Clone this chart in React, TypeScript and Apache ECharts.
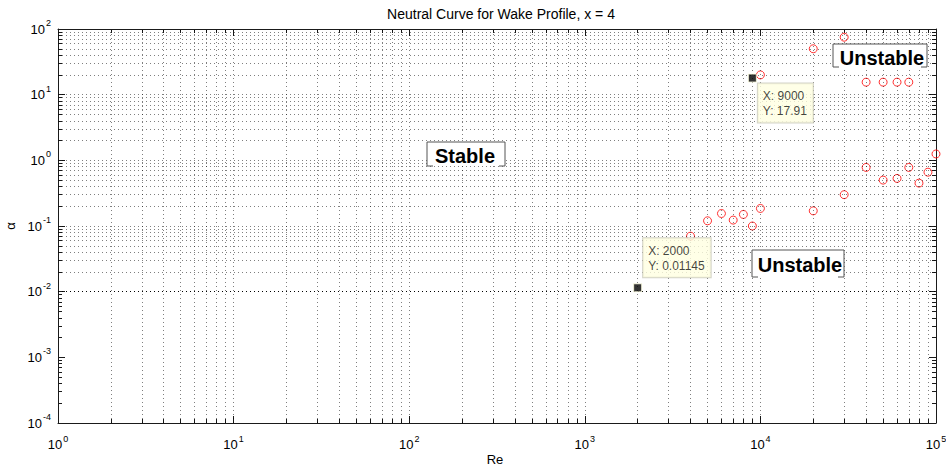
import React, { useEffect, useRef } from "react";
import * as echarts from "echarts";

// ---- data ----
const reCircles = [4000, 5000, 6000, 7000, 8000, 9000, 10000, 10000, 20000, 20000, 30000, 30000, 40000, 40000, 50000, 50000, 60000, 60000, 70000, 70000, 80000, 90000, 100000];
const alphaCircles = [0.07, 0.12, 0.155, 0.123, 0.15, 0.1, 0.185, 20, 0.17, 50, 0.3, 75, 0.78, 15.5, 0.5, 15.5, 0.53, 15.5, 0.78, 15.5, 0.45, 0.66, 1.25];

const tipRe = [9000, 2000];
const tipAlpha = [17.91, 0.01145];
const tipText = ["X: 9000\nY: 17.91", "X: 2000\nY: 0.01145"];

const xDecades = [1, 10, 100, 1000, 10000, 100000];
const yDecades = [0.0001, 0.001, 0.01, 0.1, 1, 10, 100];
const minorSteps = [2, 3, 4, 5, 6, 7, 8, 9];

const titleText = "Neutral Curve for Wake Profile, x = 4";
const xName = "Re";
const yName = "α";

function minorsOf(decades: number[]): number[] {
  const out: number[] = [];
  for (let i = 0; i < decades.length - 1; i++) {
    for (const m of minorSteps) out.push(+(m * decades[i]).toPrecision(6));
  }
  return out;
}

const xMinors = minorsOf(xDecades);
const yMinors = minorsOf(yDecades);

const FONT = "'Liberation Sans', Arial, Helvetica, sans-serif";

function supLabel(v: number) {
  const e = Math.round(Math.log10(v));
  return `{b|10}{s|${e}}`;
}

const rich = {
  b: { fontSize: 13, lineHeight: 15, fontFamily: FONT, color: "#000" },
  s: { fontSize: 9, lineHeight: 11, fontFamily: FONT, color: "#000", padding: [0, 0, 12, 1] },
};

const axisLineStyle = { color: "#1a1a1a", width: 1 };

function makeXAxis(pos: string, major: boolean, labels: boolean) {
  return {
    type: "log",
    logBase: 10,
    min: 1,
    max: 100000,
    position: pos,
    axisLine: { show: major, onZero: false, lineStyle: axisLineStyle },
    axisTick: {
      show: true,
      inside: true,
      length: major ? 7 : 4,
      customValues: major ? xDecades : xMinors,
      lineStyle: axisLineStyle,
    },
    axisLabel: labels
      ? { show: true, customValues: xDecades, formatter: supLabel, rich, margin: 14, fontFamily: FONT }
      : { show: false },
    splitLine: { show: false },
    minorTick: { show: false },
  };
}

function makeYAxis(pos: string, major: boolean, labels: boolean) {
  return {
    type: "log",
    logBase: 10,
    min: 0.0001,
    max: 100,
    position: pos,
    axisLine: { show: major, onZero: false, lineStyle: axisLineStyle },
    axisTick: {
      show: true,
      inside: true,
      length: major ? 7 : 4,
      customValues: major ? yDecades : yMinors,
      lineStyle: axisLineStyle,
    },
    axisLabel: labels
      ? { show: true, customValues: yDecades, formatter: supLabel, rich, margin: 7, fontFamily: FONT }
      : { show: false },
    splitLine: { show: false },
    minorTick: { show: false },
    name: labels ? yName : "",
    nameLocation: "middle",
    nameGap: 38,
    nameTextStyle: { fontSize: 13, fontFamily: FONT, color: "#000" },
  };
}

function annotation(x0: number, y0: number, x1: number, y1: number, text: string, cx: number, cy: number) {
  const stroke = { stroke: "#555", lineWidth: 1 };
  return {
    type: "group",
    z: 50,
    children: [
      { type: "rect", z: 50, shape: { x: x0, y: y0, width: x1 - x0, height: y1 - y0 }, style: { fill: "#fff" } },
      { type: "polyline", z: 51, shape: { points: [[x0 + 6, y1], [x0, y1], [x0, y0], [x1, y0], [x1, y1], [x1 - 6, y1]] }, style: { ...stroke, fill: null } },
      {
        type: "text",
        z: 52,
        x: cx,
        y: cy,
        style: { text, fontSize: 20, fontWeight: "bold", fontFamily: FONT, fill: "#000", align: "center", verticalAlign: "middle" },
      },
    ],
  };
}

export default function App() {
  const ref = useRef<HTMLDivElement>(null);
  useEffect(() => {
    if (!ref.current) return;
    const chart = echarts.init(ref.current, null, { renderer: "svg" });
    const gridStyle = { color: "#000", type: [1, 3], width: 1, opacity: 0.5 };
    const markData: any[] = [];
    for (const v of [...xDecades.slice(1, -1), ...xMinors]) markData.push({ xAxis: v });
    for (const v of [...yDecades.slice(1, -1), ...yMinors]) markData.push({ yAxis: v });

    chart.setOption({
      animation: false,
      backgroundColor: "#fff",
      title: {
        text: titleText,
        left: 496,
        top: 2,
        textAlign: "center",
        textStyle: { fontSize: 14, fontWeight: "normal", fontFamily: FONT, color: "#000" },
      },
      grid: { left: 58, top: 29, right: 10, bottom: 46, containLabel: false, outerBoundsMode: "none" },
      xAxis: [makeXAxis("bottom", true, true), makeXAxis("top", true, false), makeXAxis("bottom", false, false), makeXAxis("top", false, false)],
      yAxis: [makeYAxis("left", true, true), makeYAxis("right", true, false), makeYAxis("left", false, false), makeYAxis("right", false, false)],
      series: [
        {
          type: "scatter",
          xAxisIndex: 0,
          yAxisIndex: 0,
          symbol: "circle",
          symbolSize: 8,
          clip: false,
          silent: true,
          itemStyle: { color: "rgba(0,0,0,0)", borderColor: "#ff0000", borderWidth: 1 },
          data: reCircles.map((x, i) => [x, alphaCircles[i]]),
          markLine: {
            silent: true,
            symbol: ["none", "none"],
            label: { show: false },
            lineStyle: gridStyle,
            emphasis: { disabled: true },
            data: markData,
          },
          z: 3,
        },
        {
          type: "scatter",
          xAxisIndex: 0,
          yAxisIndex: 0,
          symbol: "rect",
          symbolSize: 8,
          clip: false,
          silent: true,
          z: 60,
          itemStyle: { color: "#000", borderColor: "#ffffe1", borderWidth: 1 },
          data: [
            {
              value: [tipRe[0], tipAlpha[0]],
              label: { position: [10, 10], verticalAlign: "top" },
            },
            {
              value: [tipRe[1], tipAlpha[1]],
              label: { position: [10, -6], verticalAlign: "bottom" },
            },
          ],
          label: {
            show: true,
            align: "left",
            formatter: (p: any) => tipText[p.dataIndex],
            fontSize: 12,
            lineHeight: 15,
            fontFamily: FONT,
            color: "#111",
            backgroundColor: "#ffffe1",
            borderColor: "#c8c8b8",
            borderWidth: 1,
            padding: [5, 6, 4, 5],
          },
        },
      ],
      graphic: [
        annotation(427, 142, 505, 166, "Stable", 465, 156),
        annotation(752, 250, 844, 277, "Unstable", 800, 265),
        annotation(833, 44, 927, 67, "Unstable", 882, 58),
        {
          type: "text",
          x: 495,
          y: 459,
          style: { text: xName, fontSize: 13, fontFamily: FONT, fill: "#000", align: "center", verticalAlign: "middle" },
        },
      ],
    });
    return () => chart.dispose();
  }, []);
  return <div ref={ref} style={{ position: "fixed", left: 0, top: 0, width: 946, height: 469 }} />;
}
